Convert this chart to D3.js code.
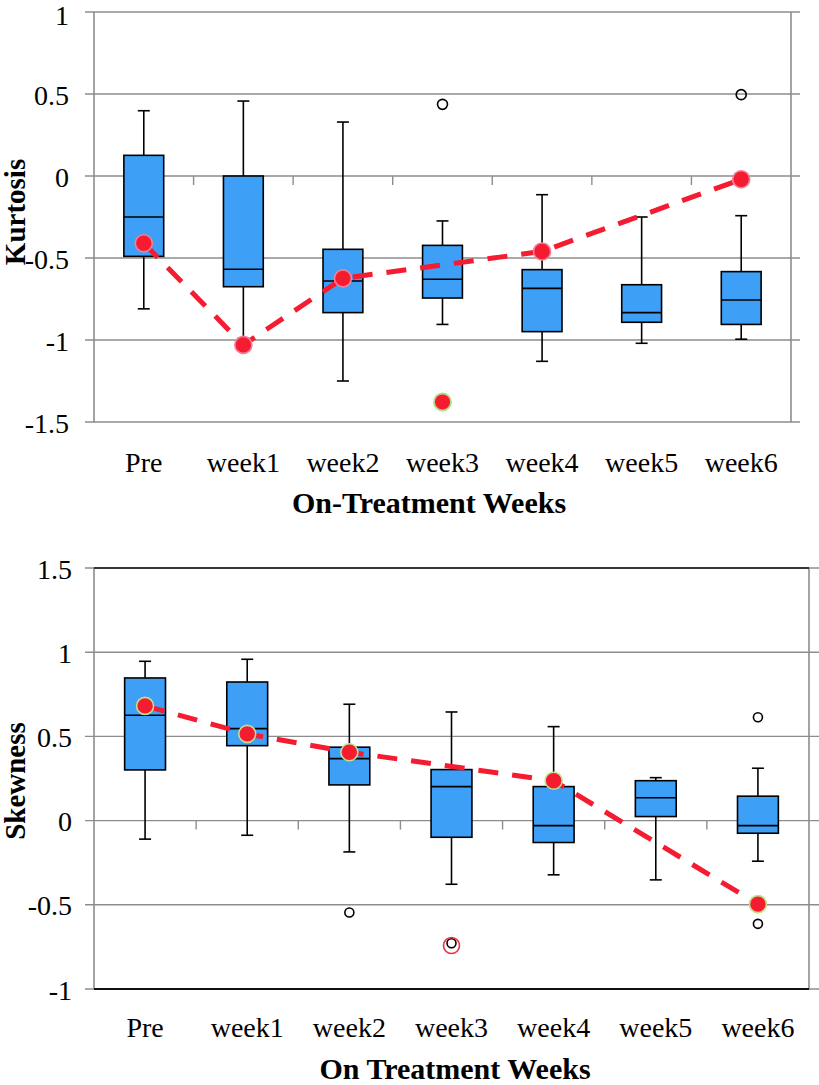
<!DOCTYPE html>
<html>
<head>
<meta charset="utf-8">
<script src="https://cdn.jsdelivr.net/npm/d3@7"></script>
<style>
  html, body { margin: 0; padding: 0; background: #fff; }
  svg { display: block; }
  text { font-family: "Liberation Serif", "Times New Roman", serif; fill: #000; }
</style>
</head>
<body>
<svg id="chart" width="819" height="1085"></svg>
<script>
// ---------- DATA ----------
const categories = ["Pre", "week1", "week2", "week3", "week4", "week5", "week6"];

// Kurtosis panel
const kurtTicks = [1, 0.5, 0, -0.5, -1, -1.5];
const kurtWhiskerLow  = [-0.81, -0.99, -1.25, -0.905, -1.13, -1.02, -0.995];
const kurtQ1          = [-0.49, -0.675, -0.833, -0.744, -0.949, -0.892, -0.905];
const kurtMedian      = [-0.25, -0.569, -0.64, -0.63, -0.685, -0.833, -0.756];
const kurtQ3          = [0.126, 0.0, -0.447, -0.423, -0.571, -0.663, -0.583];
const kurtWhiskerHigh = [0.398, 0.457, 0.329, -0.274, -0.114, -0.25, -0.242];
const kurtOutliers    = [[], [], [], [0.437], [], [], [0.496]];
const kurtMeanLine    = [-0.41, -1.03, -0.624, null, -0.46, null, -0.02];
const kurtExtraDot    = [null, null, null, -1.378, null, null, null];

// Skewness panel
const skewTicks = [1.5, 1, 0.5, 0, -0.5, -1];
const skewWhiskerLow  = [-0.11, -0.087, -0.186, -0.378, -0.322, -0.352, -0.241];
const skewQ1          = [0.301, 0.445, 0.212, -0.099, -0.13, 0.024, -0.075];
const skewMedian      = [0.626, 0.546, 0.368, 0.202, -0.03, 0.136, -0.03];
const skewQ3          = [0.847, 0.823, 0.436, 0.303, 0.202, 0.237, 0.145];
const skewWhiskerHigh = [0.946, 0.958, 0.691, 0.645, 0.558, 0.255, 0.311];
const skewOutliers    = [[], [], [-0.546], [-0.728], [], [], [0.614, -0.613]];
const skewMeanLine    = [0.681, 0.515, 0.406, null, 0.237, null, -0.496];
const skewExtraRing   = [null, null, null, -0.742, null, null, null];

// ---------- DRAW ----------
const svg = d3.select("#chart");
const GRID = "#8d8d8d";
const BOX = "#3d9ff5";
const RED = "#f51b30";

function panel(cfg) {
  const g = svg.append("g");
  const x = d3.scaleBand().domain(categories).range([cfg.left, cfg.right]).paddingInner(0).paddingOuter(0);
  const y = d3.scaleLinear().domain(cfg.domain).range([cfg.bottom, cfg.top]);
  const bw = x.bandwidth();
  const cx = c => x(c) + bw / 2;

  // y gridlines (extending past axes as tick marks)
  cfg.ticks.forEach(t => {
    g.append("line")
      .attr("x1", cfg.left - 9).attr("x2", cfg.right + cfg.gridExtendRight)
      .attr("y1", y(t)).attr("y2", y(t))
      .attr("stroke", GRID).attr("stroke-width", 1.4);
  });
  // tick labels
  cfg.ticks.forEach(t => {
    g.append("text")
      .attr("x", cfg.labelRight).attr("y", Math.max(y(t) + 10.5, 25))
      .attr("text-anchor", "end")
      .style("font-size", "28px")
      .text(String(t));
  });
  // left & right axes
  g.append("line").attr("x1", cfg.left).attr("x2", cfg.left)
    .attr("y1", y(cfg.domain[1])).attr("y2", y(cfg.domain[0]))
    .attr("stroke", GRID).attr("stroke-width", 1.6);
  g.append("line").attr("x1", cfg.right).attr("x2", cfg.right)
    .attr("y1", y(cfg.domain[1])).attr("y2", y(cfg.domain[0]))
    .attr("stroke", GRID).attr("stroke-width", 1.6);
  if (cfg.blackBorders) {
    g.append("line").attr("x1", cfg.left).attr("x2", cfg.right)
      .attr("y1", y(cfg.domain[1])).attr("y2", y(cfg.domain[1]))
      .attr("stroke", "#111").attr("stroke-width", 1.6);
    g.append("line").attr("x1", cfg.left).attr("x2", cfg.right)
      .attr("y1", y(cfg.domain[0])).attr("y2", y(cfg.domain[0]))
      .attr("stroke", "#111").attr("stroke-width", 2);
  }
  // category axis at y=0 with boundary ticks
  categories.forEach((c, i) => {
    if (i === 0) return;
    g.append("line").attr("x1", x(c)).attr("x2", x(c))
      .attr("y1", y(0)).attr("y2", y(0) + 9)
      .attr("stroke", GRID).attr("stroke-width", 1.4);
  });

  // boxes
  const boxW = bw * 0.4;
  const capW = 12;
  categories.forEach((c, i) => {
    const xc = cx(c);
    g.append("line").attr("x1", xc).attr("x2", xc)
      .attr("y1", y(cfg.q3[i])).attr("y2", y(cfg.wHigh[i]))
      .attr("stroke", "#000").attr("stroke-width", 1.6);
    g.append("line").attr("x1", xc - capW / 2).attr("x2", xc + capW / 2)
      .attr("y1", y(cfg.wHigh[i])).attr("y2", y(cfg.wHigh[i]))
      .attr("stroke", "#000").attr("stroke-width", 1.6);
    g.append("line").attr("x1", xc).attr("x2", xc)
      .attr("y1", y(cfg.q1[i])).attr("y2", y(cfg.wLow[i]))
      .attr("stroke", "#000").attr("stroke-width", 1.6);
    g.append("line").attr("x1", xc - capW / 2).attr("x2", xc + capW / 2)
      .attr("y1", y(cfg.wLow[i])).attr("y2", y(cfg.wLow[i]))
      .attr("stroke", "#000").attr("stroke-width", 1.6);
    g.append("rect")
      .attr("x", xc - boxW / 2).attr("y", y(cfg.q3[i]))
      .attr("width", boxW).attr("height", y(cfg.q1[i]) - y(cfg.q3[i]))
      .attr("fill", BOX).attr("stroke", "#000").attr("stroke-width", 1.6);
    g.append("line").attr("x1", xc - boxW / 2).attr("x2", xc + boxW / 2)
      .attr("y1", y(cfg.med[i])).attr("y2", y(cfg.med[i]))
      .attr("stroke", "#000").attr("stroke-width", 1.6);
    cfg.outliers[i].forEach(v => {
      g.append("circle").attr("cx", xc).attr("cy", y(v)).attr("r", cfg.outR)
        .attr("fill", "none").attr("stroke", "#000").attr("stroke-width", 1.6);
    });
  });

  // mean line (skipping missing categories)
  const pts = categories.map((c, i) => ({ c, v: cfg.mean[i] })).filter(d => d.v !== null);
  const line = d3.line().x(d => cx(d.c)).y(d => y(d.v));
  g.append("path").datum(pts).attr("d", line)
    .attr("fill", "none").attr("stroke", RED).attr("stroke-width", 5)
    .attr("stroke-dasharray", "20,14");
  pts.forEach(d => {
    g.append("circle").attr("cx", cx(d.c)).attr("cy", y(d.v)).attr("r", 8.5)
      .attr("fill", RED).attr("stroke", cfg.dotStroke).attr("stroke-width", 1.6);
  });
  if (cfg.extraDot) cfg.extraDot.forEach((v, i) => {
    if (v === null) return;
    g.append("circle").attr("cx", cx(categories[i])).attr("cy", y(v)).attr("r", 8.5)
      .attr("fill", RED).attr("stroke", "#b7d98a").attr("stroke-width", 1.8);
  });
  if (cfg.extraRing) cfg.extraRing.forEach((v, i) => {
    if (v === null) return;
    g.append("circle").attr("cx", cx(categories[i])).attr("cy", y(v)).attr("r", 8)
      .attr("fill", "none").attr("stroke", "#e8323f").attr("stroke-width", 1.6);
  });

  // category labels
  categories.forEach(c => {
    g.append("text").attr("x", cx(c)).attr("y", cfg.catY)
      .attr("text-anchor", "middle").style("font-size", "28px").text(c);
  });
  // x title
  g.append("text").attr("x", cfg.xTitleX).attr("y", cfg.xTitleY)
    .attr("text-anchor", "middle").style("font-size", "30px").style("font-weight", "bold")
    .text(cfg.xTitle);
  // y title
  g.append("text").attr("transform", `translate(25,${cfg.yTitleY}) rotate(-90)`)
    .attr("text-anchor", "middle").style("font-size", "29px").style("font-weight", "bold")
    .text(cfg.yTitle);
}

panel({
  left: 94, right: 791, top: 12, bottom: 422, domain: [-1.5, 1], ticks: kurtTicks,
  gridExtendRight: 9, labelRight: 69, blackBorders: false,
  wLow: kurtWhiskerLow, q1: kurtQ1, med: kurtMedian, q3: kurtQ3, wHigh: kurtWhiskerHigh,
  outliers: kurtOutliers, outR: 5, mean: kurtMeanLine, dotStroke: "#f0809a",
  extraDot: kurtExtraDot,
  catY: 472, xTitle: "On-Treatment Weeks", xTitleX: 429, xTitleY: 513,
  yTitle: "Kurtosis", yTitleY: 212
});

panel({
  left: 94, right: 809, top: 568, bottom: 989, domain: [-1, 1.5], ticks: skewTicks,
  gridExtendRight: 10, labelRight: 72, blackBorders: true,
  wLow: skewWhiskerLow, q1: skewQ1, med: skewMedian, q3: skewQ3, wHigh: skewWhiskerHigh,
  outliers: skewOutliers, outR: 4.5, mean: skewMeanLine, dotStroke: "#c2e08c",
  extraRing: skewExtraRing,
  catY: 1037, xTitle: "On Treatment Weeks", xTitleX: 455, xTitleY: 1079,
  yTitle: "Skewness", yTitleY: 781
});
</script>
</body>
</html>
